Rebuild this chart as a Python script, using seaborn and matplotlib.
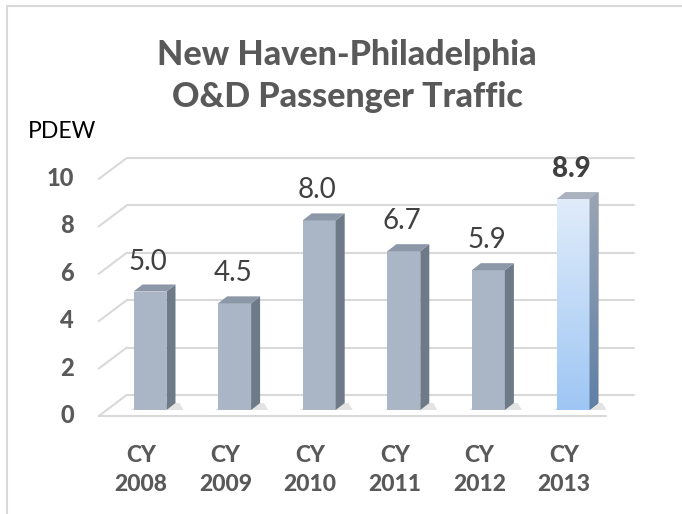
import matplotlib
matplotlib.use("Agg")
import matplotlib.pyplot as plt
import matplotlib.patches as mpatches
import numpy as np
import seaborn as sns

# data
years = ["2008", "2009", "2010", "2011", "2012", "2013"]
pdew = [5.0, 4.5, 8.0, 6.7, 5.9, 8.9]
ytick_values = [0, 2, 4, 6, 8, 10]

title = "New Haven-Philadelphia\nO&D Passenger Traffic"
ylabel = "PDEW"

sns.set_theme(style="white")
plt.rcParams["font.family"] = ["Lato", "DejaVu Sans"]

W, H = 682, 514
fig = plt.figure(figsize=(W / 100, H / 100), dpi=100)

# axes = plane of the bar front faces
px_cat = 84.6   # pixels per category
px_val = 23.7   # pixels per unit
left_px, zero_px = 150 - 0.5 * px_cat, 410
ax = fig.add_axes([left_px / W, (H - zero_px) / H, 6 * px_cat / W, 10 * px_val / H])
ax.set_xlim(-0.5, 5.5)
ax.set_ylim(0, 10)
ax.axis("off")

def dx(p):
    return p / px_cat

def dv(p):
    return p / px_val

grid_col = "#D9D9D9"
heavy = 900
# back wall offset / front floor offset / bar depth (pixels -> data)
back = (dx(19), dv(15))
front = (dx(-9), dv(-6))
depth = (dx(9), dv(7))

# back wall gridlines and side wall diagonals
for v in ytick_values:
    ax.plot([-0.5 + back[0], 5.5 + back[0]], [v + back[1], v + back[1]],
            color=grid_col, lw=1.5, clip_on=False, zorder=1)
    ax.plot([-0.5 + front[0], -0.5 + back[0]], [v + front[1], v + back[1]],
            color=grid_col, lw=1.5, clip_on=False, zorder=1)
    ax.annotate(str(v), xy=(-0.5 + front[0], v + front[1]), xytext=(-25, -7),
                textcoords="offset pixels", ha="right", va="baseline",
                fontsize=17, fontweight=heavy, color="#595959",
                annotation_clip=False)
# floor front edge
ax.plot([-0.5 + front[0], 5.5 + front[0]], [front[1], front[1]],
        color=grid_col, lw=1.5, clip_on=False, zorder=1)

face_col = "#AAB5C6"
side_col = "#6F7A88"
top_col = "#8C97A7"
colors = [face_col] * 5 + ["#C4DCF7"]

sns.barplot(x=years, y=pdew, hue=years, palette=colors, legend=False,
            width=0.39, saturation=1, ax=ax, zorder=3)

bars = ax.patches[:len(pdew)]
for i, (b, v) in enumerate(zip(bars, pdew)):
    b.set_clip_on(False)
    b.set_edgecolor("none")
    xl, xr = b.get_x(), b.get_x() + b.get_width()
    # soft floor shadow
    shadow = mpatches.Polygon([(xl - dx(3), 0), (xr + depth[0] + dx(8), 0),
                               (xr + depth[0] + dx(4), depth[1]), (xl + depth[0], depth[1])],
                              closed=True, fc="#C8C8C8", ec="none", alpha=0.5,
                              clip_on=False, zorder=2)
    ax.add_patch(shadow)
    side = mpatches.Polygon([(xr, 0), (xr + depth[0], depth[1]),
                             (xr + depth[0], v + depth[1]), (xr, v)],
                            closed=True, fc=side_col, ec="none", clip_on=False, zorder=3)
    top = mpatches.Polygon([(xl, v), (xl + depth[0], v + depth[1]),
                            (xr + depth[0], v + depth[1]), (xr, v)],
                           closed=True, fc=top_col if i < 5 else "#A9B2BE", ec="none",
                           clip_on=False, zorder=3)
    ax.add_patch(side)
    ax.add_patch(top)
    if i == len(pdew) - 1:
        # gradient front face and side
        grad = np.linspace(0, 1, 256).reshape(-1, 1)
        cmap_face = matplotlib.colors.LinearSegmentedColormap.from_list(
            "face", ["#9EC6F4", "#E0ECFA"])
        im = ax.imshow(grad, cmap=cmap_face, origin="lower", aspect="auto",
                       extent=(xl, xr, 0, v), zorder=3.5)
        im.set_clip_path(b)
        cmap_side = matplotlib.colors.LinearSegmentedColormap.from_list(
            "side", ["#5F7FA6", "#9AA5B4"])
        im2 = ax.imshow(grad, cmap=cmap_side, origin="lower", aspect="auto",
                        extent=(xr, xr + depth[0], 0, v + depth[1]), zorder=3.5)
        im2.set_clip_path(side)
    ax.annotate(f"{v:.1f}", xy=((xl + xr) / 2, v), xytext=(-2, 22),
                textcoords="offset pixels", ha="center", va="baseline",
                fontsize=20, color="#404040",
                fontweight=heavy if i == len(pdew) - 1 else "normal",
                annotation_clip=False)
    ax.annotate(f"CY\n{years[i]}", xy=(i + front[0], front[1]), xytext=(0, -75),
                textcoords="offset pixels", ha="center", va="baseline",
                fontsize=16.5, fontweight=heavy, color="#595959", linespacing=1.45,
                annotation_clip=False)

ax.set_xlim(-0.5, 5.5)
ax.set_ylim(0, 10)

fig.text(0.509, 1 - 107 / H, title, ha="center", va="baseline", fontsize=24.5,
         fontweight=heavy, color="#595959", linespacing=1.4)
fig.text(28 / W, 1 - 138 / H, ylabel, ha="left", va="baseline", fontsize=16.5,
         color="black")

# chart frame
frame = mpatches.Rectangle((7 / W, -0.01), 1.0, 1 - 6 / H + 0.01, transform=fig.transFigure,
                           fill=False, ec="#D9D9D9", lw=1.5)
fig.add_artist(frame)

fig.savefig("out.png", dpi=100)
